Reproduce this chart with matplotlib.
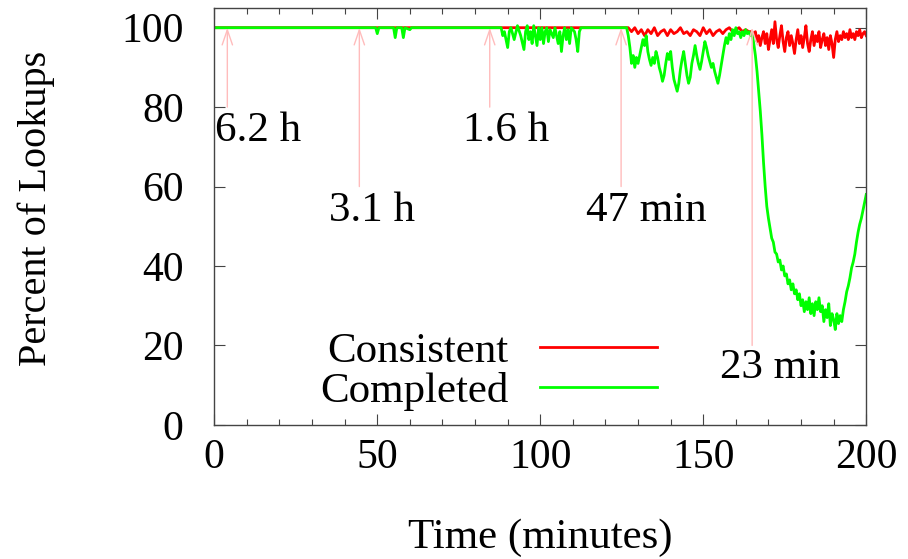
import matplotlib
matplotlib.use("Agg")
from matplotlib import pyplot as plt
from matplotlib.ticker import MultipleLocator

plt.rcParams['font.family'] = ['Liberation Serif', 'DejaVu Serif']
plt.rcParams['font.size'] = 31

# Consistent lookups (percent)
consistent_t = [0, 127, 128, 129, 130, 131, 132, 133, 134, 135, 136, 137, 138, 139,
                140, 141, 142, 143, 144, 145, 146, 147, 148, 149, 150, 151, 152, 153,
                154, 155, 156, 157, 158, 159, 160, 161, 162, 163, 164, 165,
                165.5, 166, 166.5, 167, 167.5, 168, 168.5, 169, 169.5, 170, 170.5,
                171, 171.5, 172, 172.5, 173, 173.5, 174, 174.5, 175, 175.5, 176,
                176.5, 177, 177.5, 178, 178.5, 179, 179.5, 180, 180.5, 181, 181.5,
                182, 182.5, 183, 183.5, 184, 184.5, 185, 185.5, 186, 186.5, 187,
                187.5, 188, 188.5, 189, 189.5, 190, 190.5, 191, 191.5, 192, 192.5,
                193, 193.5, 194, 194.5, 195, 195.5, 196, 196.5, 197, 197.5, 198,
                198.5, 199, 199.5, 200]
consistent_v = [100, 100, 99, 100, 98.5, 99.5, 98, 99.5, 98.5, 100, 98, 99, 99.5, 98,
                99.5, 98.5, 99, 100, 98.5, 99, 98, 99.5, 99, 98, 100, 98.5, 99.5, 98,
                99, 99.5, 98.5, 99.5, 100, 99, 99.5, 100, 99, 99.5, 99, 99,
                98, 99, 96.5, 98, 95.5, 97.5, 99, 96, 98.5, 94.5, 97,
                99.5, 96, 101.5, 97, 95, 98, 100.5, 96.5, 94, 97.5, 99,
                95.5, 98, 96, 93.5, 97, 99.5, 96, 98, 95, 97.5, 100.5,
                96, 94, 97, 99, 95.5, 98, 96.5, 99, 95, 97, 98.5,
                95.5, 97.5, 94.5, 98, 96, 92.5, 97, 99, 96.5, 98, 97,
                99, 97.5, 98.5, 97, 99.5, 97.5, 98.5, 97, 99, 98, 99.5,
                97.5, 98.5, 99, 98]

# Completed lookups (percent)
completed_t = [0, 49.5, 50, 50.5, 55, 55.5, 56, 57.5, 58, 58.5, 60, 60.5,
               88, 88.5, 89, 90, 90.5, 91, 92, 93, 94, 95, 95.5, 96, 96.5, 97,
               97.5, 98, 98.5, 99, 99.5, 100, 100.5, 101, 101.5, 102, 102.5, 103,
               104, 104.5, 105, 105.5, 106, 106.5, 107, 107.5, 108, 108.5, 109,
               109.5, 110.5, 111, 111.5, 112, 112.5, 126.5,
               127, 127.5, 128, 128.5, 129, 129.5, 130, 130.5, 131, 131.5, 132,
               132.5, 133, 133.5, 134, 134.5, 135, 135.5, 136, 136.5, 137, 137.5,
               138, 138.5, 139, 139.5, 140, 140.5, 141, 141.5, 142, 142.5, 143,
               143.5, 144, 144.5, 145, 145.5, 146, 146.5, 147, 147.5, 148, 148.5,
               149, 149.5, 150, 150.5, 151, 151.5, 152, 152.5, 153, 153.5, 154,
               154.5, 155, 155.5, 156, 156.5, 157, 157.5, 158, 158.5, 159, 159.5,
               160, 160.5, 161, 161.5, 162, 162.5, 163, 163.5, 164, 164.5, 165,
               165.5, 166, 166.5, 167, 167.5, 168, 168.5, 169, 169.5, 170, 170.5,
               171, 171.5, 172, 172.5, 173, 173.5, 174, 174.5, 175, 175.5, 176,
               176.5, 177, 177.5, 178, 178.5, 179, 179.5, 180, 180.5, 181, 181.5,
               182, 182.5, 183, 183.5, 184, 184.5, 185, 185.5, 186, 186.5, 187,
               187.5, 188, 188.5, 189, 189.5, 190, 190.5, 191, 191.5, 192, 192.5,
               193, 193.5, 194, 194.5, 195, 195.5, 196, 196.5, 197, 197.5, 198,
               198.5, 199, 199.5, 200]
completed_v = [100, 100, 98.5, 100, 100, 97.5, 100, 100, 97.5, 100, 99.5, 100,
               100, 98, 99, 95, 99, 100, 97, 100.5, 98, 94.5, 99, 100.5, 97, 99,
               96, 100.5, 98, 95.5, 100, 97, 100, 96, 99, 100, 96.5, 99.5,
               97.5, 100, 98, 96, 99, 94, 98, 100, 97, 99.5, 96,
               100, 99, 97, 94, 99, 100, 100,
               98, 95, 91, 93, 90, 92.5, 91, 93, 95, 97, 95.5,
               98, 94, 92, 90.5, 92.5, 91, 94, 92.5, 90, 88.5, 86.5,
               88, 91, 93.5, 92, 94, 90, 87, 85.5, 84, 86, 89.5,
               92, 94, 91, 88, 86, 87.5, 91, 93, 95.5, 93, 91,
               89.5, 91.5, 94, 96.5, 95, 93, 91.5, 90, 91, 89, 87.5,
               86, 88, 90.5, 93, 95.5, 97.5, 96, 98.5, 97, 99.5, 98,
               100, 98.5, 99, 97.5, 99, 98, 99.5, 98.5, 99, 98, 98.5,
               96, 93, 89, 84, 79, 73, 66, 60, 55, 52, 49.5,
               47, 46, 43.5, 43, 41, 41.5, 39, 40, 37.5, 38, 35.5,
               36.5, 34, 35.5, 33, 34, 31.5, 33, 30, 31.5, 28.5, 31,
               29, 32, 28, 30.5, 27.5, 31, 29, 32, 28.5, 30, 26,
               29, 27, 30.5, 25, 28, 26.5, 24, 28, 25.5, 27.5, 26,
               29, 31, 33.5, 35, 37, 39.5, 41, 43, 46, 48.5, 50.5,
               52, 54, 56, 58]

# half-life annotations
arrow_x = [4, 44.5, 84.5, 124.8, 165]
arrow_bottom = [80, 60, 80, 60, 20]
label_text = ['6.2 h', '3.1 h', '1.6 h', '47 min', '23 min']
label_x = [13.5, 48.5, 89.5, 132.5, 173.5]
label_y = [74, 54, 74, 54, 14.5]

fig = plt.figure(figsize=(9.08, 5.59), dpi=100)
ax = fig.add_axes([0.236, 0.24, 0.718, 0.746])

for x, yb in zip(arrow_x, arrow_bottom):
    ax.annotate('', xy=(x, 100), xytext=(x, yb),
                arrowprops=dict(arrowstyle='->,head_length=0.35,head_width=0.12',
                                color='#ffbcbc', lw=1.0, shrinkA=0, shrinkB=0))

ax.plot(consistent_t, consistent_v, color='#ff0000', lw=2, label='Consistent')
ax.plot(completed_t, completed_v, color='#00ff00', lw=2, label='Completed')

for s, x, y in zip(label_text, label_x, label_y):
    ax.text(x, y, s, ha='center', va='center')

ax.set_xlim(0, 200)
ax.set_ylim(0, 105)
ax.xaxis.set_major_locator(MultipleLocator(50))
ax.xaxis.set_minor_locator(MultipleLocator(10))
ax.yaxis.set_major_locator(MultipleLocator(20))
ax.tick_params(which='both', direction='in', top=True, right=True, width=0.8,
               color='#444444', labelsize=30)
ax.tick_params(which='major', length=8)
ax.tick_params(axis='y', which='major', pad=22)
ax.tick_params(axis='x', which='major', pad=10)
ax.tick_params(which='minor', length=4)
for sp in ax.spines.values():
    sp.set_color('#444444')
    sp.set_linewidth(1.0)

ax.set_xlabel('Time (minutes)', labelpad=30)
ax.set_ylabel('Percent of Lookups', fontsize=29)
ax.yaxis.set_label_coords(-0.245, 0.52)

ax.legend(loc='lower right', bbox_to_anchor=(0.725, -0.04), frameon=False,
          markerfirst=False, handlelength=2.72, handletextpad=0.72,
          labelspacing=0.02, borderpad=0.2)

plt.savefig('out.png', dpi=100)
